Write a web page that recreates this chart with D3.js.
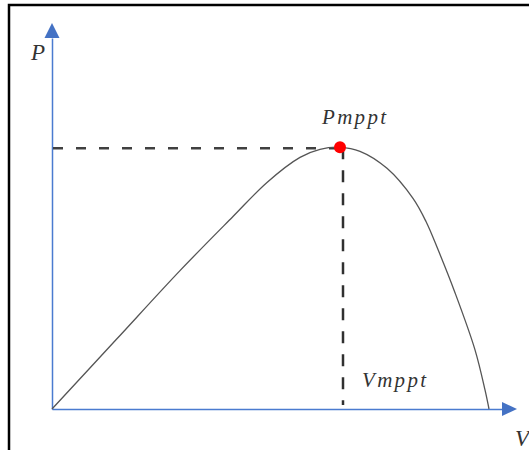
<!DOCTYPE html>
<html lang="en">
<head>
	<meta charset="UTF-8">
	<title>P-V curve MPPT</title>
	<style type="text/css">
		body{
			margin: 0;
			background: #fff;
		}
		.lbl{
			font-family: "Liberation Serif", "DejaVu Serif", serif;
			font-style: italic;
			fill: #333;
		}
		.axis path{
			stroke: #4a7bd0;
			stroke-width: 1.5;
		}
	</style>
	<script type="text/javascript" src="https://d3js.org/d3.v7.min.js"></script>
</head>
<body>
</body>
<script type="text/javascript">
	// P-V curve points (arbitrary units)
	var voltage = [0, 6.4, 12.8, 18.1, 21.5, 24.8, 26.8, 28.8, 30.8, 33.5, 36.1, 37.4, 38.6, 40.3, 42.3, 43.3, 43.7];
	var power   = [0, 6.9, 13.8, 19.2, 22.6, 25.1, 25.9, 26.1, 25.7, 24.0, 21.0, 18.7, 15.9, 11.6, 5.9, 1.9, 0];
	var mpptIndex = 7;
	var axisLabels = ['P', 'V'];
	var mpptLabels = ['Pmppt', 'Vmppt'];

	var fullWidth = 529;
	var fullHeight = 450;

	var svg = d3.select('body')
		.append('svg')
		.attr('width', fullWidth)
		.attr('height', fullHeight);

	// outer frame (top and left edges only)
	svg.append('path')
		.attr('d', 'M9,450 L9,5 L529,5')
		.attr('fill', 'none')
		.attr('stroke', '#000')
		.attr('stroke-width', 2.5);

	var xScale = d3.scaleLinear()
		.domain([0, 45])
		.range([52, 502]);

	var yScale = d3.scaleLinear()
		.domain([0, 37])
		.range([409, 38]);

	// axes, no ticks
	svg.append('g')
		.attr('class', 'axis')
		.attr('transform', 'translate(0,' + yScale(0) + ')')
		.call(d3.axisBottom(xScale).ticks(0).tickSizeOuter(0));

	svg.append('g')
		.attr('class', 'axis')
		.attr('transform', 'translate(' + xScale(0) + ',0)')
		.call(d3.axisLeft(yScale).ticks(0).tickSizeOuter(0));

	// arrow heads
	var x0 = xScale(0), y0 = yScale(0);
	var xEnd = xScale(45), yEnd = yScale(37);
	svg.append('path')
		.attr('d', 'M' + xEnd + ',' + (y0 - 7) + ' L' + (xEnd + 15) + ',' + y0 + ' L' + xEnd + ',' + (y0 + 7) + 'Z')
		.attr('fill', '#4472c4');
	svg.append('path')
		.attr('d', 'M' + (x0 - 7.5) + ',' + yEnd + ' L' + x0 + ',' + (yEnd - 15) + ' L' + (x0 + 7.5) + ',' + yEnd + 'Z')
		.attr('fill', '#4472c4');

	var data = voltage.map(function(v, i){ return {v: v, p: power[i]}; });
	var mppt = data[mpptIndex];

	// dashed guide lines
	svg.append('line')
		.attr('x1', x0 + 1)
		.attr('y1', yScale(mppt.p) + 1)
		.attr('x2', xScale(mppt.v))
		.attr('y2', yScale(mppt.p) + 1)
		.attr('stroke', '#404040')
		.attr('stroke-width', 2.5)
		.attr('stroke-dasharray', '10,13');

	svg.append('line')
		.attr('x1', xScale(mppt.v) + 3)
		.attr('y1', yScale(mppt.p))
		.attr('x2', xScale(mppt.v) + 3)
		.attr('y2', y0 - 4)
		.attr('stroke', '#303030')
		.attr('stroke-width', 2.5)
		.attr('stroke-dasharray', '12,11');

	// the curve
	var line = d3.line()
		.x(function(d){ return xScale(d.v); })
		.y(function(d){ return yScale(d.p); })
		.curve(d3.curveCatmullRom);

	svg.append('path')
		.datum(data)
		.attr('d', line)
		.attr('fill', 'none')
		.attr('stroke', '#555')
		.attr('stroke-width', 1.3);

	// MPP marker
	svg.append('circle')
		.attr('cx', xScale(mppt.v))
		.attr('cy', yScale(mppt.p))
		.attr('r', 6)
		.attr('fill', '#ff0000');

	// labels
	svg.append('text')
		.attr('class', 'lbl')
		.attr('x', 31)
		.attr('y', 60)
		.style('font-size', '23px')
		.text(axisLabels[0]);

	svg.append('text')
		.attr('class', 'lbl')
		.attr('x', 515)
		.attr('y', 446)
		.style('font-size', '23px')
		.text(axisLabels[1]);

	svg.append('text')
		.attr('class', 'lbl')
		.attr('x', 322)
		.attr('y', 124)
		.style('font-size', '21px')
		.style('letter-spacing', '2.3px')
		.text(mpptLabels[0]);

	svg.append('text')
		.attr('class', 'lbl')
		.attr('x', 362)
		.attr('y', 387)
		.style('font-size', '21px')
		.style('letter-spacing', '2.3px')
		.text(mpptLabels[1]);
</script>
</html>
